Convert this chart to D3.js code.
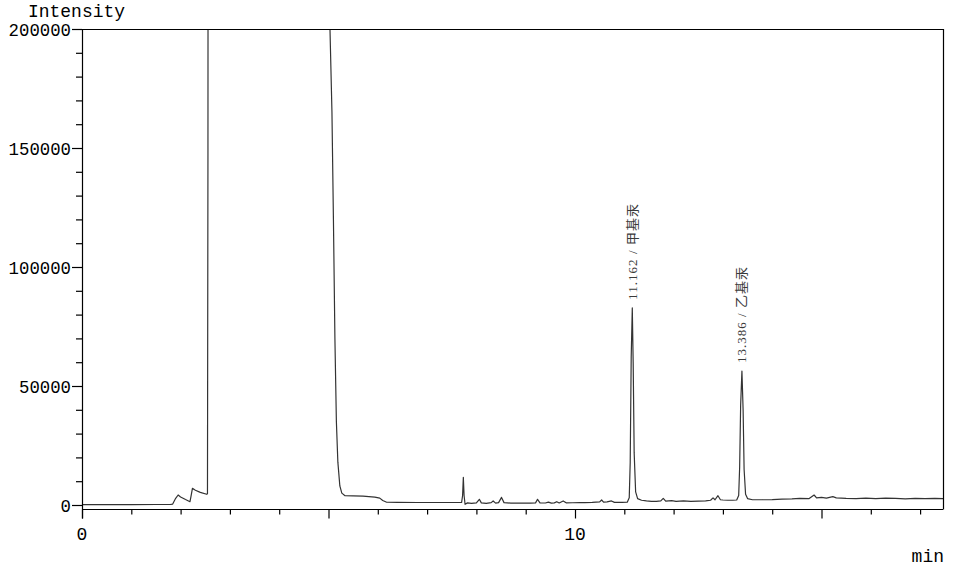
<!DOCTYPE html>
<html>
<head>
<meta charset="utf-8">
<script src="https://cdn.jsdelivr.net/npm/d3@7/dist/d3.min.js"></script>
<style>
  html, body { margin: 0; padding: 0; background: #fff; }
  svg { display: block; }
</style>
</head>
<body>
<svg id="chart" width="953" height="571"></svg>
<script>
// ---- data ----
const timeMin = [
  0.00, 0.50, 1.00, 1.50, 1.80, 1.84, 1.90, 1.95, 2.00, 2.10, 2.19, 2.21, 2.24, 2.30, 2.40, 2.53,
  2.545, 2.555, 2.56, 2.65, 4.90, 5.00, 5.03, 5.07, 5.10, 5.13, 5.16, 5.19, 5.23, 5.27, 5.335, 5.50, 5.70,
  5.94, 6.04, 6.10, 6.18, 6.40, 6.80, 7.20, 7.60, 7.70, 7.72, 7.735, 7.75, 7.77, 7.82, 7.90, 8.00,
  8.06, 8.10, 8.20, 8.30, 8.34, 8.39, 8.45, 8.51, 8.56, 8.70, 8.90, 9.10, 9.20, 9.24, 9.29, 9.40,
  9.46, 9.52, 9.58, 9.63, 9.68, 9.76, 9.82, 9.95, 10.10, 10.20, 10.35, 10.50, 10.54, 10.58, 10.65, 10.74,
  10.80, 10.95, 11.06, 11.10, 11.12, 11.14, 11.162, 11.18, 11.20, 11.23, 11.27, 11.35, 11.45, 11.55, 11.65, 11.74,
  11.79, 11.84, 11.96, 12.05, 12.20, 12.35, 12.50, 12.65, 12.75, 12.80, 12.84, 12.90, 12.95, 13.00, 13.10, 13.20,
  13.28, 13.32, 13.34, 13.36, 13.386, 13.41, 13.43, 13.46, 13.50, 13.60, 13.80, 14.00, 14.20, 14.40, 14.56, 14.75,
  14.85, 14.90, 15.00, 15.10, 15.23, 15.30, 15.50, 15.70, 15.90, 16.10, 16.30, 16.50, 16.70, 16.90, 17.10, 17.30,
  17.47
];
const intensity = [
  150, 150, 180, 200, 250, 400, 2800, 4200, 3400, 2300, 1400, 3500, 7000, 6200, 5300, 4500,
  4700, 150000, 400000, 1200000, 500000, 260000, 200000, 165000, 120000, 70000, 35000, 18000, 8000, 5000, 3900, 3800, 3700,
  3300, 2900, 1900, 1150, 1100, 1050, 1050, 1050, 1100, 4000, 11600, 4000, 300, 900, 700, 900,
  2400, 900, 700, 1000, 1700, 800, 1000, 3200, 1000, 800, 750, 800, 900, 2400, 900, 850,
  1200, 800, 900, 1400, 850, 1700, 900, 950, 1050, 1000, 1100, 1300, 2100, 1200, 1300, 1700,
  1100, 1100, 1200, 3000, 18000, 62000, 82800, 60000, 22000, 5500, 2700, 2000, 1700, 1500, 1500, 1700,
  2800, 1600, 1800, 1500, 1700, 1500, 1600, 1700, 2000, 3000, 2200, 3900, 2200, 2100, 2000, 2000,
  2100, 4000, 16000, 42000, 56300, 40000, 15000, 4500, 2700, 2200, 2200, 2300, 2500, 2600, 2800, 2700,
  4200, 3000, 3200, 2900, 3500, 3000, 2800, 2700, 2900, 2700, 2900, 2800, 2600, 2800, 2700, 2800,
  2700
];
const peakTimes   = [11.162, 13.386];
const peakHeights = [82800, 56300];
const peakNames   = ["甲基汞", "乙基汞"];
const xLabelValues = [0, 10];
const yLabelValues = [0, 50000, 100000, 150000, 200000];

// ---- layout ----
const svg = d3.select("#chart");
const plotL = 82, plotR = 943, plotT = 29, zeroY = 505, axisY = 509.5;
const xMax = (plotR - plotL) / 49.3;

const x = d3.scaleLinear().domain([0, xMax]).range([plotL, plotR]);
const y = d3.scaleLinear().domain([0, 200000]).range([zeroY, plotT]);

const mono = "'Liberation Mono', 'DejaVu Sans Mono', monospace";

// clip
svg.append("defs").append("clipPath").attr("id", "plotClip")
  .append("rect").attr("x", plotL).attr("y", plotT).attr("width", plotR - plotL).attr("height", axisY - plotT);

// trace
const pts = timeMin.map((t, i) => [t, intensity[i]]);
svg.append("path")
  .datum(pts)
  .attr("clip-path", "url(#plotClip)")
  .attr("fill", "none")
  .attr("stroke", "#333")
  .attr("stroke-width", 1.2)
  .attr("stroke-linejoin", "round")
  .attr("d", d3.line().x(d => x(d[0])).y(d => y(d[1])));

// frame: top and right
svg.append("line").attr("x1", plotL).attr("x2", plotR).attr("y1", plotT + 0.5).attr("y2", plotT + 0.5)
  .attr("stroke", "#000").attr("stroke-width", 1.2);
svg.append("line").attr("x1", plotR + 0.5).attr("x2", plotR + 0.5).attr("y1", plotT).attr("y2", axisY)
  .attr("stroke", "#000").attr("stroke-width", 1.2);

// x axis
const xTicks = d3.range(0, Math.floor(xMax) + 1);
const xAxis = d3.axisBottom(x)
  .tickValues(xTicks)
  .tickSize(5)
  .tickFormat(() => "");
const gx = svg.append("g").attr("transform", `translate(0,${axisY})`).call(xAxis);
gx.select(".domain").attr("stroke", "#000").attr("stroke-width", 1.2).attr("d", `M${plotL},0H${plotR}`);
gx.selectAll(".tick line").attr("stroke", "#000").attr("stroke-width", 1.2)
  .attr("y2", d => (d % 5 === 0 ? 9 : 5));
svg.append("g").selectAll("text").data(xLabelValues).join("text")
  .attr("x", d => x(d)).attr("y", 540)
  .attr("text-anchor", "middle")
  .attr("font-family", mono).attr("font-size", 18).attr("fill", "#000")
  .text(d => d);

// y axis
const yTicks = d3.range(0, 200001, 10000);
const yAxis = d3.axisLeft(y).tickValues(yTicks).tickSize(6).tickFormat(() => "");
const gy = svg.append("g").attr("transform", `translate(${plotL},0)`).call(yAxis);
gy.select(".domain").attr("stroke", "#000").attr("stroke-width", 1.2)
  .attr("d", `M0.5,${plotT}V${axisY + 9}`);
gy.selectAll(".tick line").attr("stroke", "#000").attr("stroke-width", 1.2)
  .attr("x2", d => (d % 50000 === 0 ? -10 : -6));
svg.append("g").selectAll("text").data(yLabelValues).join("text")
  .attr("x", 71).attr("y", d => y(d) + 7)
  .attr("text-anchor", "end")
  .attr("font-family", mono).attr("font-size", 17.5).attr("fill", "#000")
  .attr("lengthAdjust", "spacingAndGlyphs")
  .text(d => d)
  .attr("textLength", d => String(d).length * 10.4);

// axis titles
svg.append("text").attr("x", 28).attr("y", 16.5)
  .attr("font-family", mono).attr("font-size", 17.5).attr("fill", "#000")
  .attr("textLength", 97).attr("lengthAdjust", "spacingAndGlyphs")
  .text("Intensity");
svg.append("text").attr("x", 944).attr("y", 562).attr("text-anchor", "end")
  .attr("font-family", mono).attr("font-size", 18).attr("fill", "#000").text("min");

// peak labels
svg.append("g").selectAll("text").data(peakTimes).join("text")
  .attr("transform", (d, i) => `translate(${x(d) + 4.5},${y(peakHeights[i]) - 8}) rotate(-90)`)
  .attr("font-family", "'Liberation Serif', 'Noto Sans CJK SC', serif")
  .attr("font-size", 13)
  .attr("fill", "#3a3a3a")
  .attr("textLength", 96)
  .attr("lengthAdjust", "spacing")
  .text((d, i) => `${d.toFixed(3)} / ${peakNames[i]}`);
</script>
</body>
</html>
